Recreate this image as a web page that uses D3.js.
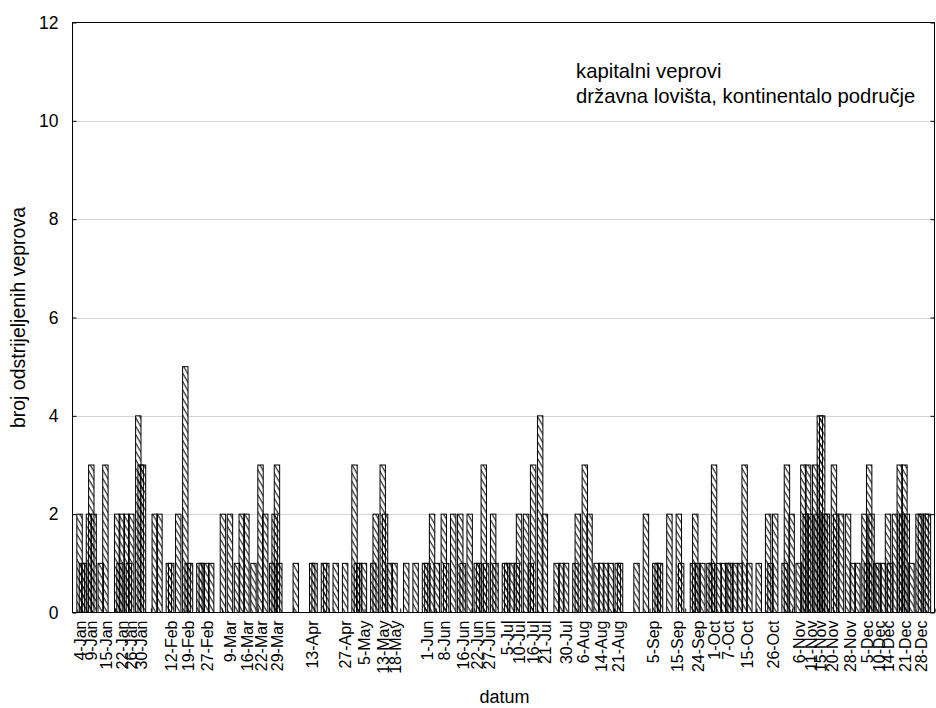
<!DOCTYPE html>
<html><head><meta charset="utf-8">
<script src="https://cdn.jsdelivr.net/npm/d3@7"></script>
<style>body{margin:0;background:#fff} svg{display:block} text{font-family:"Liberation Sans",Arial,sans-serif;fill:#000}</style>
</head><body><svg id="c" width="936" height="708"></svg>
<script>
// ---- data ----
const killDates = [
 "01-04","01-05","01-06","01-08","01-09","01-10","01-13","01-15","01-20","01-21","01-22","01-24","01-25","01-26","01-29","01-30","01-31",
 "02-05","02-07","02-11","02-12","02-15","02-18","02-19","02-20","02-24","02-25","02-27",
 "03-01","03-06","03-09","03-12","03-14","03-16","03-19","03-22","03-24","03-27","03-28","03-29","03-30",
 "04-06","04-13","04-14","04-18","04-19","04-23","04-27",
 "05-01","05-02","05-03","05-05","05-09","05-10","05-13","05-14","05-16","05-18","05-23","05-27","05-31",
 "06-01","06-03","06-05","06-08","06-09","06-12","06-15","06-16","06-19","06-22","06-23","06-25","06-26","06-29","06-30",
 "07-04","07-05","07-07","07-09","07-10","07-13","07-15","07-16","07-19","07-21","07-26","07-28","07-30",
 "08-03","08-04","08-07","08-09","08-12","08-14","08-16","08-18","08-21","08-22","08-29",
 "09-02","09-06","09-07","09-08","09-12","09-16","09-17","09-22","09-23","09-24","09-26","09-29","09-30",
 "10-01","10-03","10-05","10-07","10-08","10-10","10-12","10-14","10-16","10-20","10-24","10-25","10-27","10-31",
 "11-01","11-03","11-06","11-08","11-09","11-10","11-11","11-13","11-14","11-15","11-16","11-17","11-18","11-21","11-22","11-24","11-27","11-29",
 "12-01","12-04","12-05","12-06","12-07","12-09","12-10","12-12","12-14","12-15","12-17","12-19","12-20","12-21","12-22","12-24","12-27","12-28","12-30","12-31"
];
const killCounts = [
 2,1,1,2,3,2,1,3,2,1,2,2,1,2,4,3,3,
 2,2,1,1,2,5,1,1,1,1,1,
 1,2,2,1,2,2,1,3,2,1,2,3,1,
 1,1,1,1,1,1,1,
 3,1,1,1,1,2,3,2,1,1,1,1,1,
 1,2,1,2,1,2,2,1,2,1,1,3,1,2,1,
 1,1,1,1,2,2,1,3,4,2,1,1,1,
 1,2,3,2,1,1,1,1,1,1,1,
 2,1,1,1,2,2,1,1,2,1,1,1,1,
 3,1,1,1,1,1,1,3,1,1,2,1,2,1,
 3,2,1,3,2,3,2,3,2,4,4,2,2,3,2,2,2,1,
 1,2,1,3,2,1,1,1,2,1,2,3,2,3,2,1,2,2,2,2
];
const tickLabelDates = [
 "01-04","01-09","01-15","01-22","01-26","01-30","02-12","02-19","02-27","03-09","03-16","03-22","03-29",
 "04-13","04-27","05-05","05-13","05-18","06-01","06-08","06-16","06-22","06-27","07-05","07-10","07-16","07-21",
 "07-30","08-06","08-14","08-21","09-05","09-15","09-24","10-01","10-07","10-15","10-26","11-06","11-11","11-15",
 "11-20","11-28","12-05","12-10","12-14","12-21","12-28"
];
const yTicks = [0, 2, 4, 6, 8, 10, 12];
const legendLines = ["kapitalni veprovi", "državna lovišta, kontinentalo područje"];
const xTitle = "datum";
const yTitle = "broj odstrijeljenih veprova";

// ---- layout ----
const L = 72.5, R = 934.5, T = 22.5, B = 612.5;
const parse = s => d3.timeParse("%Y-%m-%d")("2007-" + s);
const fmt = d3.timeFormat("%-d-%b");
const data = killDates.map((s, i) => ({date: parse(s), value: killCounts[i]}));

const svg = d3.select("#c");
const x = d3.scaleTime().domain([new Date(2007,0,1), new Date(2008,0,2,19)]).range([L, R]);
const y = d3.scaleLinear().domain([0, 12]).range([B, T]);

// hatch pattern
const defs = svg.append("defs");
const pat = defs.append("pattern").attr("id","hatch").attr("patternUnits","userSpaceOnUse")
  .attr("width",4.2).attr("height",4.2).attr("patternTransform","rotate(-30)");
pat.append("line").attr("x1",1).attr("y1",0).attr("x2",1).attr("y2",4.2).attr("stroke","#000").attr("stroke-width",1);
defs.append("clipPath").attr("id","plot").append("rect").attr("x",L).attr("y",T).attr("width",R-L).attr("height",B-T);

// gridlines
svg.append("g").selectAll("line").data(yTicks.filter(v => v > 0 && v < 12)).join("line")
  .attr("x1", L).attr("x2", R).attr("y1", d => Math.round(y(d)) + 0.5).attr("y2", d => Math.round(y(d)) + 0.5)
  .attr("stroke", "#d4d4d4").attr("stroke-width", 1);

// bars
const bw = 5.4;
const gb = svg.append("g").attr("clip-path","url(#plot)");
gb.selectAll("rect.u").data(data).join("rect").attr("class","u")
  .attr("x", d => x(d.date) - bw/2).attr("width", bw)
  .attr("y", d => y(d.value)).attr("height", d => y(0) - y(d.value))
  .attr("fill", "#fff");
gb.selectAll("rect.h").data(data).join("rect").attr("class","h")
  .attr("x", d => x(d.date) - bw/2).attr("width", bw)
  .attr("y", d => y(d.value)).attr("height", d => y(0) - y(d.value))
  .attr("fill", "url(#hatch)").attr("stroke", "#000").attr("stroke-width", 1);

// frame
svg.append("rect").attr("x", L).attr("y", T).attr("width", R-L).attr("height", B-T)
  .attr("fill","none").attr("stroke","#000").attr("stroke-width",1);

// y axis (ticks inside on both sides)
const yAxisL = d3.axisLeft(y).tickValues(yTicks).tickSize(-4).tickPadding(14).tickFormat(d3.format("d"));
const gy = svg.append("g").attr("transform", `translate(${L},0)`).call(yAxisL);
gy.select(".domain").remove();
gy.selectAll("text").style("font-size","17.5px").attr("font-family",null);
gy.selectAll("line").attr("stroke","#000");
const gyr = svg.append("g").attr("transform", `translate(${R},0)`).call(d3.axisRight(y).tickValues(yTicks).tickSize(-4).tickFormat(""));
gyr.select(".domain").remove();

// x axis minor ticks (inward)
const t0 = parse("01-04");
const minorTicks = d3.range(25).map(k => d3.timeHour.offset(t0, Math.round(k * 15.16 * 24)));
const gxt = svg.append("g").attr("transform", `translate(0,${B})`).call(d3.axisBottom(x).tickValues(minorTicks).tickSize(-4).tickFormat(""));
gxt.select(".domain").remove();

// x axis date labels
const gx = svg.append("g").attr("transform", `translate(0,${B})`)
  .call(d3.axisBottom(x).tickValues(tickLabelDates.map(parse)).tickSize(0).tickFormat(fmt));
gx.select(".domain").remove();
gx.selectAll("text").attr("font-family",null).style("font-size","16px")
  .attr("text-anchor","end").attr("dy","0.35em").attr("y",0)
  .attr("transform","translate(0,8) rotate(-90)").attr("x",0);

// titles
svg.append("text").attr("x", (L+R)/2 + 1).attr("y", 703).attr("text-anchor","middle").style("font-size","18px").text(xTitle);
svg.append("text").attr("transform", `translate(25,${(T+B)/2}) rotate(-90)`).attr("text-anchor","middle").style("font-size","19.5px").text(yTitle);

// legend text
svg.append("g").selectAll("text").data(legendLines).join("text")
  .attr("x", 576).attr("y", (d,i) => 78 + i*25).style("font-size","20.3px").text(d => d);
</script></body></html>
